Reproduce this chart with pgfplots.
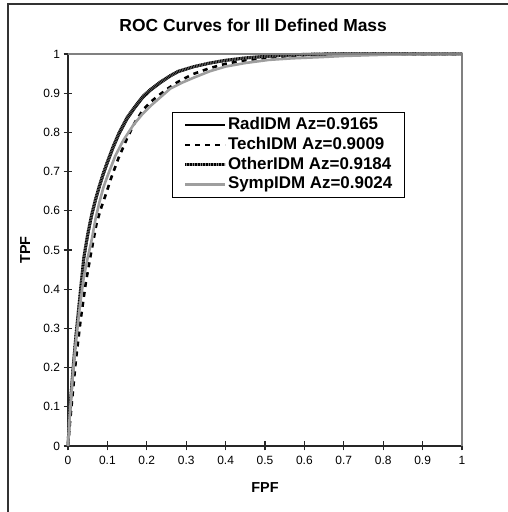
\documentclass[border=0pt]{standalone}
\usepackage{fontspec}
\setmainfont{Liberation Sans}
\usepackage{pgfplots}
\pgfplotsset{compat=1.18}

\pgfplotstableread{
x y
0 0
0.004 0.078
0.008 0.133
0.013 0.197
0.02 0.275
0.03 0.37
0.04 0.475
0.05 0.535
0.06 0.585
0.07 0.625
0.08 0.66
0.09 0.692
0.10 0.72
0.115 0.76
0.13 0.795
0.15 0.833
0.17 0.862
0.19 0.888
0.21 0.907
0.235 0.926
0.26 0.943
0.28 0.954
0.32 0.967
0.36 0.976
0.40 0.983
0.45 0.989
0.50 0.993
0.55 0.996
0.60 0.998
0.65 0.999
0.70 1
1 1
}\raddata

\pgfplotstableread{
x y
0 0
0.005 0.06
0.012 0.135
0.02 0.219
0.032 0.321
0.045 0.415
0.058 0.49
0.073 0.57
0.085 0.61
0.098 0.648
0.11 0.685
0.128 0.734
0.15 0.785
0.17 0.826
0.191 0.858
0.21 0.878
0.2335 0.897
0.255 0.913
0.276 0.927
0.30 0.94
0.318 0.949
0.36 0.964
0.40 0.975
0.45 0.984
0.50 0.99
0.55 0.994
0.60 0.997
0.70 1
1 1
}\techdata

\pgfplotstableread{
x y
0 0
0.004 0.08
0.008 0.135
0.013 0.20
0.02 0.28
0.03 0.38
0.04 0.48
0.05 0.54
0.06 0.59
0.07 0.63
0.08 0.665
0.09 0.697
0.10 0.725
0.115 0.765
0.13 0.80
0.15 0.838
0.17 0.866
0.19 0.892
0.21 0.91
0.235 0.929
0.26 0.945
0.28 0.956
0.32 0.968
0.36 0.977
0.40 0.984
0.45 0.99
0.50 0.994
0.55 0.997
0.60 0.999
0.65 1
1 1
}\otherdata

\pgfplotstableread{
x y
0 0
0.004 0.07
0.008 0.125
0.013 0.19
0.02 0.265
0.03 0.355
0.04 0.43
0.05 0.48
0.06 0.525
0.07 0.58
0.08 0.623
0.09 0.66
0.10 0.688
0.12 0.74
0.14 0.779
0.166 0.819
0.19 0.848
0.21 0.868
0.235 0.89
0.26 0.912
0.29 0.927
0.32 0.94
0.36 0.956
0.40 0.968
0.45 0.977
0.51 0.985
0.57 0.989
0.64 0.992
0.70 0.995
0.80 0.998
0.90 1
1 1
}\sympdata

\newcommand\legfont{\fontsize{17}{19}\selectfont\bfseries}

\begin{document}
\begin{tikzpicture}
\useasboundingbox (0,0) rectangle (508bp,512bp);
% outer chart frame (only left and top edges are visible)
\draw[black!80, line width=1.3bp] (8bp,0) -- (8bp,508bp) -- (508bp,508bp);
\begin{axis}[
    at={(68bp,66bp)}, anchor=south west,
    scale only axis, width=394bp, height=392bp,
    xmin=0, xmax=1, ymin=0, ymax=1,
    axis lines=left,
    axis line style={-, black!85, line width=1.3bp},
    clip=false,
    xtick={0,0.1,...,1.01}, ytick={0,0.1,...,1.01},
    tick align=center, major tick length=9bp,
    tick style={black!85, line width=1.1bp},
    xticklabels={0,0.1,0.2,0.3,0.4,0.5,0.6,0.7,0.8,0.9,1},
    yticklabels={0,0.1,0.2,0.3,0.4,0.5,0.6,0.7,0.8,0.9,1},
    tick label style={font=\fontsize{12}{14}\selectfont},
    x tick label style={yshift=-2bp},
    /pgf/number format/assume math mode=true,
    title={ROC Curves for Ill Defined Mass},
    title style={font=\fontsize{17.5}{20}\selectfont\bfseries,
        at={(axis description cs:0.47,1.057)}, anchor=center},
    xlabel={FPF}, ylabel={TPF},
    xlabel style={font=\fontsize{14.5}{17}\selectfont\bfseries,
        at={(axis description cs:0.5,-0.106)}, anchor=center},
    ylabel style={font=\fontsize{14.5}{17}\selectfont\bfseries,
        at={(axis description cs:-0.109,0.5)}, anchor=center},
    legend style={at={(axis description cs:0.264,0.852)}, anchor=north west,
        draw=black, line width=1bp, inner xsep=11bp, inner ysep=3bp,
        row sep=0bp,
        nodes={text height=11.5bp, text depth=3bp,
               inner xsep=1.5bp, inner ysep=2.6bp}},
    legend cell align=left,
    legend image code/.code={\draw[#1] (0bp,0bp) -- (40bp,0bp);},
]
\addplot[black, line width=2.2bp] table {\raddata};
\addlegendentry{\legfont RadIDM Az=0.9165}
\addplot[black, line width=2.6bp, dash pattern=on 5bp off 5bp] table {\techdata};
\addlegendentry{\legfont TechIDM Az=0.9009}
\addplot[black!50, line width=3bp,
    postaction={draw=black, line width=3bp, dash pattern=on 0.8bp off 0.8bp}] table {\otherdata};
\addlegendentry{\legfont OtherIDM Az=0.9184}
\addplot[black!38, line width=2.6bp] table {\sympdata};
\addlegendentry{\legfont SympIDM Az=0.9024}
\draw[black!50, line width=1.3bp] (rel axis cs:0,1) -- (rel axis cs:1,1) -- (rel axis cs:1,0);
\end{axis}
\end{tikzpicture}
\end{document}
